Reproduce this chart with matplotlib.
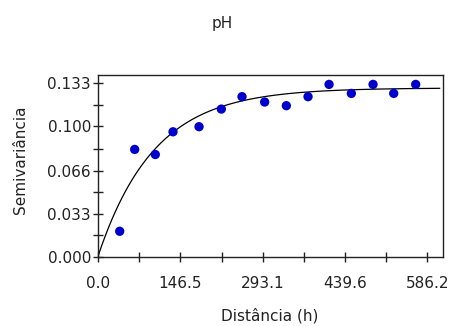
import numpy as np
import matplotlib
matplotlib.use("Agg")
import matplotlib.pyplot as plt
from matplotlib.ticker import FixedLocator

plt.rcParams['font.family'] = ['DejaVu Sans']

# experimental semivariogram points
dist = [38.6, 65.3, 102.0, 133.5, 179.8, 219.5, 256.3, 296.6, 335.2,
        373.8, 411.2, 450.9, 489.5, 526.3, 565.4]
gamma = [0.0197, 0.0824, 0.0785, 0.0959, 0.0998, 0.1133, 0.1228, 0.1187,
         0.1159, 0.1228, 0.1322, 0.1253, 0.1322, 0.1253, 0.1322]

# fitted exponential model
nugget = 0.0005
sill = 0.1295
rng = 300.0

xticks = [0.0, 146.5, 293.1, 439.6, 586.2]
xtick_labels = ["0.0", "146.5", "293.1", "439.6", "586.2"]
yticks = [0.000, 0.033, 0.066, 0.100, 0.133]
ytick_labels = ["0.000", "0.033", "0.066", "0.100", "0.133"]

fig = plt.figure(figsize=(4.54, 3.26), dpi=100)
ax = fig.add_axes([98 / 454, 1 - 257 / 326, 345 / 454, 182 / 326])

h = np.linspace(0, 608, 300)
model = nugget + (sill - nugget) * (1 - np.exp(-3 * h / rng))
ax.plot(h, model, color='black', lw=0.9)
ax.scatter(dist, gamma, s=45, color='#0000cc', zorder=3, edgecolors='none')

ax.set_xlim(0, 614)
ax.set_ylim(0, 0.1394)
ax.set_xticks(xticks)
ax.set_xticklabels(xtick_labels)
ax.set_yticks(yticks)
ax.set_yticklabels(ytick_labels)
ax.xaxis.set_minor_locator(FixedLocator([73.3, 219.8, 366.4, 512.9]))
ax.yaxis.set_minor_locator(FixedLocator([0.0165, 0.0495, 0.083, 0.1165]))
ax.tick_params(which='both', direction='inout', length=7, width=1,
               labelsize=11, colors='#222222')
ax.tick_params(axis='x', which='both', pad=10)
ax.tick_params(axis='y', which='both', pad=1.5)
for s in ax.spines.values():
    s.set_linewidth(1)
    s.set_color('#222222')

ax.set_xlabel("Distância (h)", fontsize=11, color='#222222')
ax.set_ylabel("Semivariância", fontsize=11, color='#222222')
ax.xaxis.set_label_coords(0.4986, -0.28)
ax.yaxis.set_label_coords(-0.203, 0.533)
fig.text(222.5 / 454, 1 - 23.5 / 326, "pH", ha='center', va='center',
         fontsize=11, color='#222222')

fig.savefig("out.png", dpi=100)
